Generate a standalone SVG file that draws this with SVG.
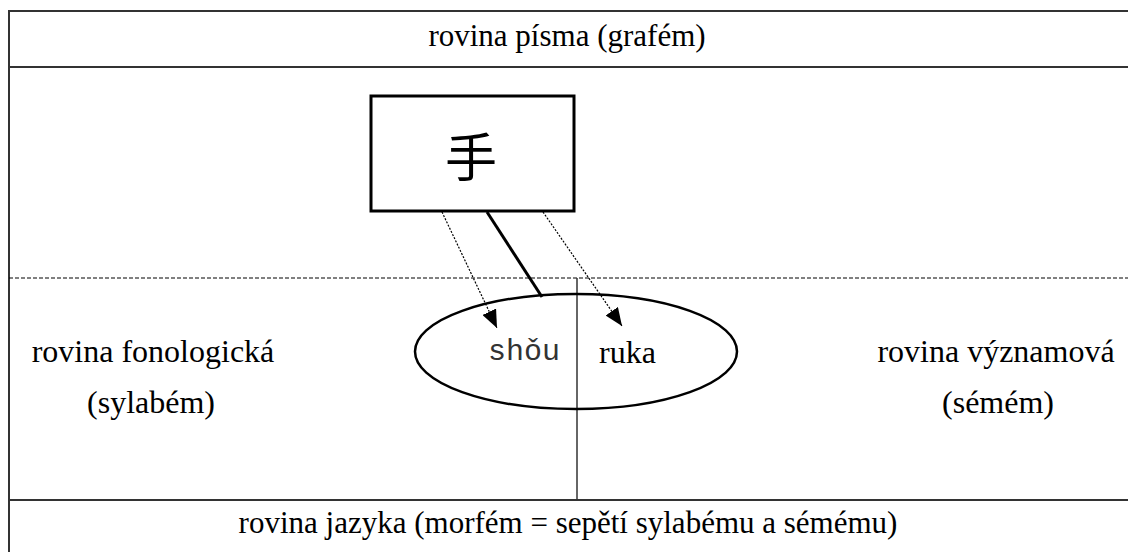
<svg xmlns="http://www.w3.org/2000/svg" width="1128" height="552" viewBox="0 0 1128 552">
<defs>
<style>
.t{font-family:"Liberation Serif","Times New Roman",serif;font-size:31px;fill:#000}
.s{font-size:32px}
.frame{stroke:#333;stroke-width:2;fill:none}
.dot{stroke:#000;stroke-width:1.2;stroke-dasharray:2 1.5;fill:none}
</style>
<marker id="ah" markerUnits="userSpaceOnUse" markerWidth="18" markerHeight="15" refX="18" refY="7.5" orient="auto">
<path d="M0,0 L18,7.5 L0,15 z" fill="#000"/>
</marker>
</defs>
<rect width="1128" height="552" fill="#fff"/>
<g id="frame">
<line class="frame" x1="9" y1="11" x2="1128" y2="11"/>
<line class="frame" x1="9" y1="10" x2="9" y2="552"/>
<line class="frame" x1="9" y1="67" x2="1128" y2="67"/>
<line x1="9" y1="278" x2="1128" y2="278" stroke="#000" stroke-width="1" stroke-dasharray="4 2"/>
<line class="frame" x1="9" y1="500" x2="1128" y2="500"/>
<line x1="577" y1="278" x2="577" y2="500" stroke="#333" stroke-width="1.5"/>
</g>
<g id="level-labels">
<text class="t" x="567" y="46" text-anchor="middle">rovina písma (grafém)</text>
<text class="t s" x="153" y="362" text-anchor="middle">rovina fonologická</text>
<text class="t s" x="151" y="413" text-anchor="middle">(sylabém)</text>
<text class="t s" x="996" y="362" text-anchor="middle">rovina významová</text>
<text class="t s" x="998" y="413" text-anchor="middle">(sémém)</text>
<text class="t" x="568" y="533" text-anchor="middle">rovina jazyka (morfém = sepětí sylabému a sémému)</text>
</g>
<g id="grapheme">
<rect x="371" y="96" width="203" height="115" fill="#fff" stroke="#000" stroke-width="3"/>
<text x="471" y="177" text-anchor="middle" font-family="'Noto Sans CJK SC','Noto Sans CJK JP',sans-serif" font-size="52">手</text>
</g>
<g id="morpheme">
<ellipse cx="576" cy="351.5" rx="161" ry="57.5" fill="none" stroke="#000" stroke-width="2.5"/>
<text x="488" y="360" font-family="'Liberation Mono','Courier New',monospace" font-size="30" fill="#333">shǒu</text>
<text class="t s" x="599" y="363">ruka</text>
</g>
<g id="connectors">
<line x1="487" y1="212" x2="542" y2="297" stroke="#000" stroke-width="3"/>
<line class="dot" x1="442" y1="212" x2="497" y2="328" marker-end="url(#ah)"/>
<line class="dot" x1="543" y1="212" x2="622" y2="326" marker-end="url(#ah)"/>
</g>
</svg>
